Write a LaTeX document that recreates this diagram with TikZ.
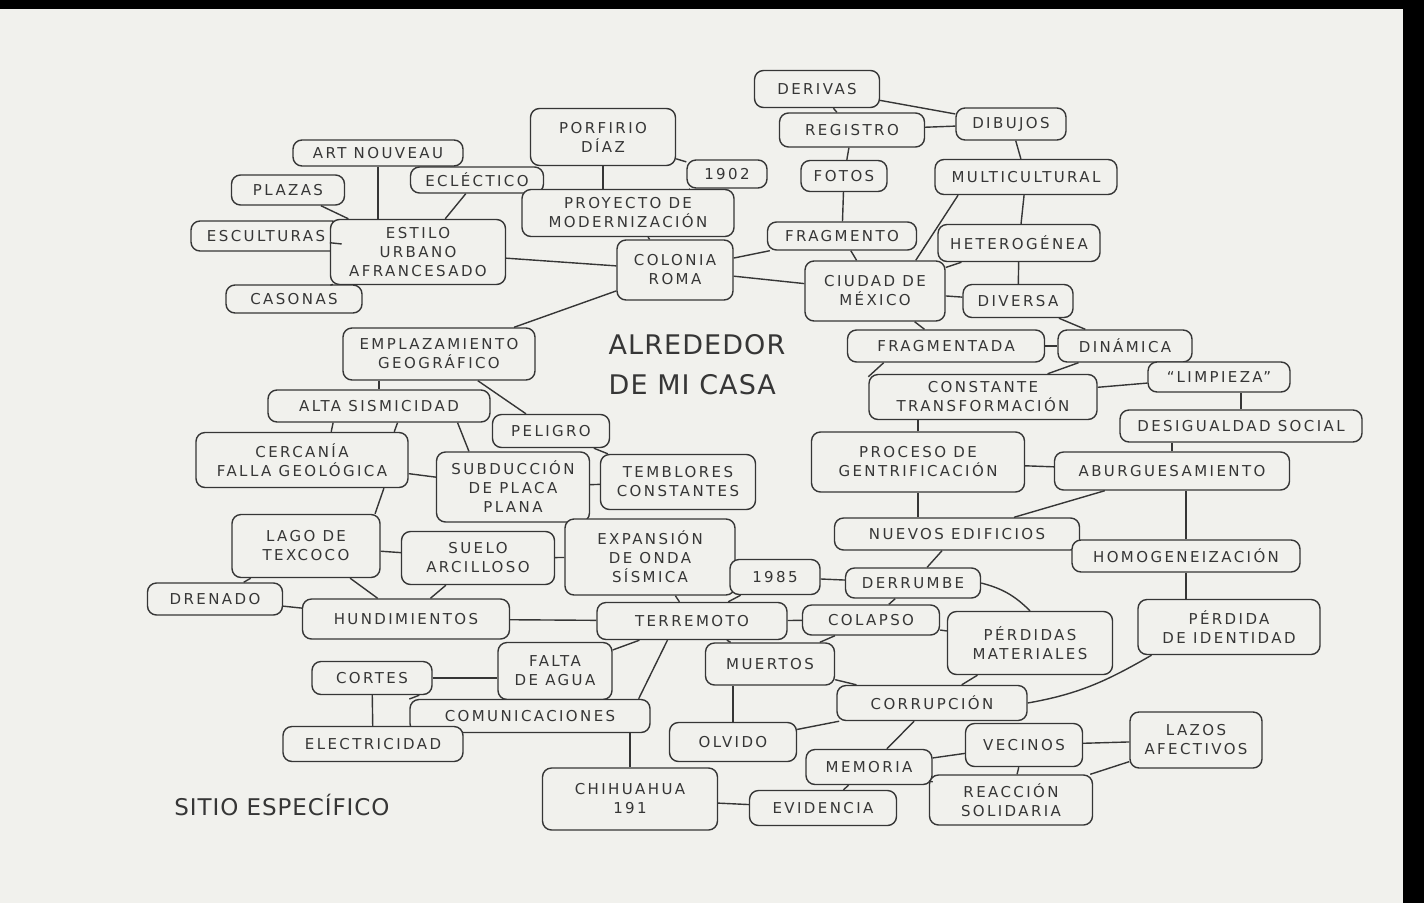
\documentclass[tikz,border=0pt]{standalone}
\usepackage{fontspec}
\usepackage{tikz}
\newfontfamily\handfont[LetterSpace=16]{DejaVu Sans}
\newfontfamily\bigfont[LetterSpace=4]{DejaVu Sans}
\definecolor{ink}{HTML}{363636}
\definecolor{paper}{HTML}{F1F1ED}

\begin{document}
\begin{tikzpicture}[x=1pt,y=-1pt]
\tikzstyle{every node}+=[inner sep=3pt]
\tikzstyle{idea}=[draw=ink,fill=paper,line width=1.4pt,rounded corners=9pt,align=center,text=ink,font=\handfont\fontsize{15}{19}\selectfont]
\tikzset{boxw/.style={minimum width=#1pt},boxh/.style={minimum height=#1pt}}
\tikzstyle{title}=[text=ink,align=left,font=\bigfont\fontsize{27}{40}\selectfont]
% paper and frame
\fill [black] (0,0) rectangle (1424,903);
\fill [paper] (0,9) rectangle (1403,903);
\useasboundingbox (0,0) rectangle (1424,903);
% colonia roma
\node[idea,boxw=170,boxh=26] (artnouveau) at (378,153) {ART NOUVEAU};
\node[idea,boxw=133,boxh=26] (eclectico) at (477,180) {ECLÉCTICO};
\node[idea,boxw=113,boxh=30] (plazas) at (288,190) {PLAZAS};
\node[idea,boxw=150,boxh=30] (esculturas) at (266,236) {ESCULTURAS};
\node[idea,boxw=175,boxh=65] (estilo) at (418,252) {ESTILO\\URBANO\\AFRANCESADO};
\node[idea,boxw=136,boxh=28] (casonas) at (294,299) {CASONAS};
\node[idea,boxw=145,boxh=57] (porfirio) at (603,137) {PORFIRIO\\DÍAZ};
\node[idea,boxw=80,boxh=28] (y1902) at (727,174) {1902};
\node[idea,boxw=212,boxh=47] (proyecto) at (628,213) {PROYECTO DE\\MODERNIZACIÓN};
\node[idea,boxw=116,boxh=60] (roma) at (675,270) {COLONIA\\ROMA};
% ciudad de mexico
\node[idea,boxw=125,boxh=37] (derivas) at (817,89) {DERIVAS};
\node[idea,boxw=145,boxh=34] (registro) at (852,130) {REGISTRO};
\node[idea,boxw=110,boxh=32] (dibujos) at (1011,124) {DIBUJOS};
\node[idea,boxw=86,boxh=31] (fotos) at (844,176) {FOTOS};
\node[idea,boxw=182,boxh=35] (multicultural) at (1026,177) {MULTICULTURAL};
\node[idea,boxw=149,boxh=28] (fragmento) at (842,236) {FRAGMENTO};
\node[idea,boxw=162,boxh=37] (heterogenea) at (1019,243) {HETEROGÉNEA};
\node[idea,boxw=140,boxh=60] (cdmx) at (875,291) {CIUDAD DE\\MÉXICO};
\node[idea,boxw=110,boxh=33] (diversa) at (1018,301) {DIVERSA};
\node[idea,boxw=197,boxh=32] (fragmentada) at (946,346) {FRAGMENTADA};
\node[idea,boxw=134,boxh=32] (dinamica) at (1125,346) {DINÁMICA};
\node[idea,boxw=228,boxh=45] (constante) at (983,397) {CONSTANTE\\TRANSFORMACIÓN};
\node[idea,boxw=142,boxh=30] (limpieza) at (1219,377) {“LIMPIEZA”};
\node[idea,boxw=242,boxh=32] (desigualdad) at (1241,426) {DESIGUALDAD SOCIAL};
\node[idea,boxw=213,boxh=60] (proceso) at (918,462) {PROCESO DE\\GENTRIFICACIÓN};
\node[idea,boxw=235,boxh=38] (aburguesamiento) at (1172,471) {ABURGUESAMIENTO};
\node[idea,boxw=245,boxh=32] (nuevos) at (957,534) {NUEVOS EDIFICIOS};
\node[idea,boxw=228,boxh=32] (homogeneizacion) at (1186,556) {HOMOGENEIZACIÓN};
\node[idea,boxw=182,boxh=55] (perdidaid) at (1229,627) {PÉRDIDA\\DE IDENTIDAD};
% centre
\node[title] (tema) at (697,365) {ALREDEDOR\\DE MI CASA};
% emplazamiento
\node[idea,boxw=192,boxh=52] (emplazamiento) at (439,354) {EMPLAZAMIENTO\\GEOGRÁFICO};
\node[idea,boxw=222,boxh=32] (sismicidad) at (379,406) {ALTA SISMICIDAD};
\node[idea,boxw=117,boxh=33] (peligro) at (551,431) {PELIGRO};
\node[idea,boxw=212,boxh=55] (cercania) at (302,460) {CERCANÍA\\FALLA GEOLÓGICA};
\node[idea,boxw=153,boxh=70] (subduccion) at (513,487) {SUBDUCCIÓN\\DE PLACA\\PLANA};
\node[idea,boxw=155,boxh=55] (temblores) at (678,482) {TEMBLORES\\CONSTANTES};
\node[idea,boxw=148,boxh=63] (texcoco) at (306,546) {LAGO DE\\TEXCOCO};
\node[idea,boxw=153,boxh=53] (suelo) at (478,558) {SUELO\\ARCILLOSO};
\node[idea,boxw=170,boxh=76] (expansion) at (650,557) {EXPANSIÓN\\DE ONDA\\SÍSMICA};
\node[idea,boxw=135,boxh=32] (drenado) at (215,599) {DRENADO};
\node[idea,boxw=207,boxh=40] (hundimientos) at (406,619) {HUNDIMIENTOS};
% terremoto
\node[idea,boxw=190,boxh=37] (terremoto) at (692,621) {TERREMOTO};
\node[idea,boxw=90,boxh=35] (y1985) at (775,577) {1985};
\node[idea,boxw=135,boxh=30] (derrumbe) at (913,583) {DERRUMBE};
\node[idea,boxw=137,boxh=30] (colapso) at (871,620) {COLAPSO};
\node[idea,boxw=165,boxh=63] (materiales) at (1030,643) {PÉRDIDAS\\MATERIALES};
\node[idea,boxw=129,boxh=42] (muertos) at (770,664) {MUERTOS};
\node[idea,boxw=190,boxh=35] (corrupcion) at (932,703) {CORRUPCIÓN};
\node[idea,boxw=127,boxh=39] (olvido) at (733,742) {OLVIDO};
\node[idea,boxw=126,boxh=35] (memoria) at (869,767) {MEMORIA};
\node[idea,boxw=117,boxh=43] (vecinos) at (1024,745) {VECINOS};
\node[idea,boxw=132,boxh=56] (lazos) at (1196,740) {LAZOS\\AFECTIVOS};
\node[idea,boxw=163,boxh=50] (reaccion) at (1011,800) {REACCIÓN\\SOLIDARIA};
\node[idea,boxw=147,boxh=35] (evidencia) at (823,808) {EVIDENCIA};
\node[idea,boxw=175,boxh=62] (chihuahua) at (630,799) {CHIHUAHUA\\191};
\node[idea,boxw=114,boxh=57] (falta) at (555,671) {FALTA\\DE AGUA};
\node[idea,boxw=120,boxh=33] (cortes) at (372,678) {CORTES};
\node[idea,boxw=240,boxh=33] (comunicaciones) at (530,716) {COMUNICACIONES};
\node[idea,boxw=180,boxh=35] (electricidad) at (373,744) {ELECTRICIDAD};
\node[text=ink,font=\bigfont\fontsize{23}{28}\selectfont] (sitio) at (282,805) {SITIO ESPECÍFICO};
% links
\begin{scope}[draw=ink,line width=1.4pt]
\draw (artnouveau.south) -- (artnouveau.south |- estilo.north);
\draw (plazas) -- (estilo);
\draw (esculturas) -- (estilo);
\draw (eclectico) -- (estilo);
\draw (casonas) -- (estilo);
\draw (estilo) -- (roma);
\draw (porfirio) -- (y1902);
\draw (porfirio.south) -- (porfirio.south |- proyecto.north);
\draw (y1902) -- (proyecto);
\draw (proyecto) -- (roma);
\draw (roma) -- (cdmx);
\draw (roma) -- (fragmento);
\draw (roma) -- (emplazamiento);
\draw (derivas) -- (registro);
\draw (derivas) -- (dibujos);
\draw (registro) -- (dibujos);
\draw (registro) -- (fotos);
\draw (dibujos) -- (multicultural);
\draw (fotos) -- (fragmento);
\draw (fragmento) -- (cdmx);
\draw (multicultural.-165) -- (cdmx.37);
\draw (multicultural) -- (heterogenea);
\draw (heterogenea) -- (cdmx);
\draw (heterogenea) -- (diversa);
\draw (cdmx) -- (diversa);
\draw (cdmx) -- (fragmentada);
\draw (diversa) -- (dinamica);
\draw (fragmentada) -- (dinamica);
\draw (fragmentada.-165) -- (constante.170);
\draw (dinamica) -- (constante);
\draw (constante) -- (limpieza);
\draw (proceso.north) -- (proceso.north |- constante.south);
\draw (desigualdad.north) -- (desigualdad.north |- limpieza.south);
\draw (aburguesamiento.north) -- (aburguesamiento.north |- desigualdad.south);
\draw (proceso) -- (aburguesamiento);
\draw (proceso.south) -- (proceso.south |- nuevos.north);
\draw (aburguesamiento) -- (nuevos);
\draw (homogeneizacion.north) -- (homogeneizacion.north |- aburguesamiento.south);
\draw (homogeneizacion.south) -- (homogeneizacion.south |- perdidaid.north);
\draw (nuevos) -- (derrumbe);
\draw (perdidaid.-160) to[out=-150,in=10] (corrupcion.east);
\draw (emplazamiento.south -| sismicidad.north) -- (sismicidad.north);
\draw (emplazamiento) -- (peligro);
\draw (sismicidad.-160) -- (cercania.44);
\draw (sismicidad.-42) -- (cercania.17);
\draw (cercania.-19) -- (texcoco.25);
\draw (sismicidad.-12) -- (subduccion.141);
\draw (cercania) -- (subduccion);
\draw (peligro) -- (temblores);
\draw (subduccion) -- (temblores);
\draw (texcoco) -- (suelo);
\draw (suelo) -- (expansion);
\draw (texcoco) -- (drenado);
\draw (drenado) -- (hundimientos);
\draw (texcoco) -- (hundimientos);
\draw (suelo) -- (hundimientos);
\draw (hundimientos) -- (terremoto);
\draw (expansion) -- (terremoto);
\draw (y1985) -- (terremoto);
\draw (y1985) -- (derrumbe);
\draw (terremoto) -- (colapso);
\draw (derrumbe) -- (colapso);
\draw (derrumbe.east) to[bend left=15] (materiales.north);
\draw (colapso) -- (materiales);
\draw (materiales) -- (corrupcion);
\draw (terremoto) -- (muertos);
\draw (colapso) -- (muertos);
\draw (muertos) -- (corrupcion);
\draw (olvido.north) -- (olvido.north |- muertos.south);
\draw (olvido) -- (corrupcion);
\draw (corrupcion) -- (memoria);
\draw (memoria) -- (vecinos);
\draw (vecinos) -- (lazos);
\draw (vecinos) -- (reaccion);
\draw (lazos) -- (reaccion);
\draw (memoria) -- (reaccion);
\draw (memoria) -- (evidencia);
\draw (chihuahua) -- (evidencia);
\draw (chihuahua.north) -- (chihuahua.north |- comunicaciones.south);
\draw (terremoto.-142) -- (comunicaciones.9);
\draw (terremoto) -- (falta);
\draw (cortes.east) -- (cortes.east -| falta.west);
\draw (cortes.-20) -- (comunicaciones.172);
\draw (cortes) -- (electricidad);
\end{scope}
\end{tikzpicture}
\end{document}
